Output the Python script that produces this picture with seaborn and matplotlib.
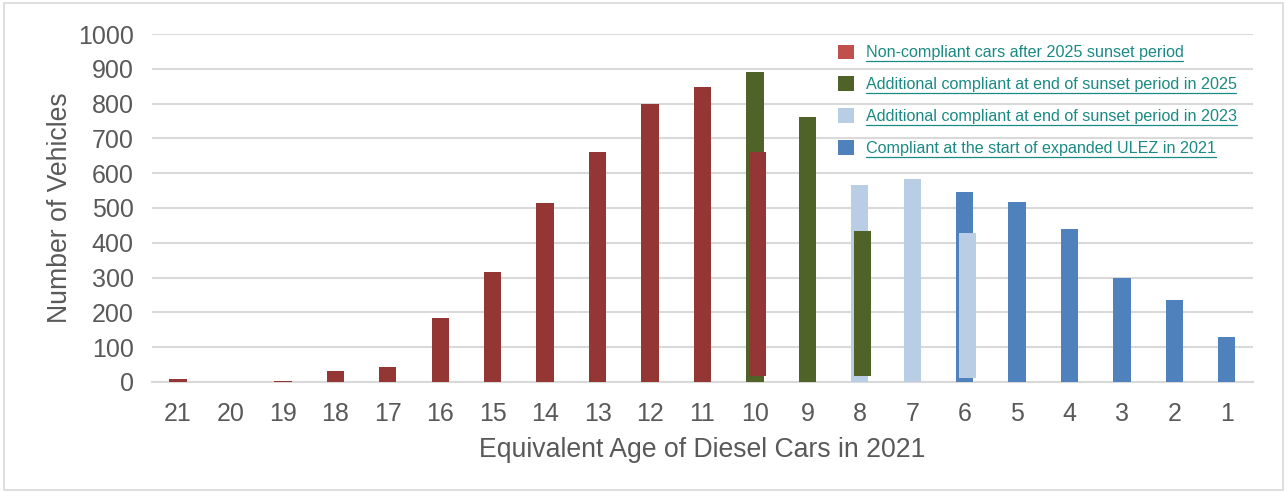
import matplotlib
matplotlib.use("Agg")
import matplotlib.pyplot as plt
from matplotlib.patches import Patch, Rectangle
from matplotlib.lines import Line2D
import pandas as pd
import seaborn as sns

# age of diesel cars (years), drawn from oldest to newest
ages = list(range(21, 0, -1))

non_compliant_ages = [21, 20, 19, 18, 17, 16, 15, 14, 13, 12, 11]
non_compliant = [8, 0, 3, 32, 42, 183, 315, 515, 660, 800, 848]
end_2025_ages = [10, 9]
end_2025 = [890, 762]
end_2023_ages = [8, 7]
end_2023 = [565, 582]
start_2021_ages = [6, 5, 4, 3, 2, 1]
start_2021 = [547, 518, 440, 300, 237, 128]

# narrower overlaid bars that sit inside the split columns (age, bottom, top)
overlay_ages = [10, 8, 6]
overlay_bottom = [18, 18, 12]
overlay_top = [662, 435, 427]
overlay_series = ["non", "end2025", "end2023"]

labels = {
    "non": "Non-compliant cars after 2025 sunset period",
    "end2025": "Additional compliant at end of sunset period in 2025",
    "end2023": "Additional compliant at end of sunset period in 2023",
    "start2021": "Compliant at the start of expanded ULEZ in 2021",
}
bar_colors = {"non": "#943634", "end2025": "#4F6228", "end2023": "#B9CDE5", "start2021": "#4F81BD"}
legend_colors = {"non": "#C0504D", "end2025": "#4F6228", "end2023": "#B9CDE5", "start2021": "#4F81BD"}

sns.set_style("white")
plt.rcParams["font.family"] = ["Liberation Sans", "DejaVu Sans"]

fig = plt.figure(figsize=(12.87, 4.93), dpi=100)
ax = fig.add_axes([0.118, 0.2252, 0.8556, 0.7058])

frames = []
for key, a, v in [("non", non_compliant_ages, non_compliant),
                  ("end2025", end_2025_ages, end_2025),
                  ("end2023", end_2023_ages, end_2023),
                  ("start2021", start_2021_ages, start_2021)]:
    frames.append(pd.DataFrame({"pos": [21 - x for x in a], "value": v, "series": key}))
df = pd.concat(frames, ignore_index=True)

for key, sub in df.groupby("series", sort=False):
    sns.barplot(data=sub, x="pos", y="value", native_scale=True, width=0.33,
                color=bar_colors[key], saturation=1, errorbar=None, ax=ax,
                linewidth=0, zorder=3)

for a, b, t, key in zip(overlay_ages, overlay_bottom, overlay_top, overlay_series):
    sub = pd.DataFrame({"pos": [21 - a + 0.05], "value": [t - b]})
    sns.barplot(data=sub, x="pos", y="value", native_scale=True, width=0.33,
                color=bar_colors[key], saturation=1, errorbar=None, ax=ax,
                bottom=b, linewidth=0, zorder=4)

ax.set_xlim(-0.5, 20.5)
ax.set_ylim(0, 1000)
ax.set_yticks(range(0, 1001, 100))
ax.set_xticks([21 - a for a in ages])
ax.set_xticklabels([str(a) for a in ages])
ax.grid(axis="y", color="#d9d9d9", linewidth=1.5, zorder=0)
ax.set_axisbelow(True)
for s in ["left", "right", "top"]:
    ax.spines[s].set_visible(False)
ax.spines["bottom"].set_color("#d9d9d9")
ax.spines["bottom"].set_linewidth(1.5)
ax.tick_params(axis="y", length=0, labelsize=18, labelcolor="#595959", pad=13)
ax.tick_params(axis="x", length=0, labelsize=18, labelcolor="#595959", pad=14.4)
ax.set_xlabel("Equivalent Age of Diesel Cars in 2021", fontsize=19.2, color="#595959", labelpad=8.2)
ax.set_ylabel("Number of Vehicles", fontsize=19.2, color="#595959", labelpad=3.7)

handles = [Patch(facecolor=legend_colors[k], edgecolor="none") for k in labels]
leg = fig.legend(handles, list(labels.values()), loc="upper left",
                 bbox_to_anchor=(0.640, 0.939), frameon=False, fontsize=11.6,
                 labelcolor="#1a8a82", handlelength=1.0, handleheight=1.0,
                 labelspacing=1.0, handletextpad=0.7)

fig.add_artist(Rectangle((0.003, 0.006), 0.994, 0.988, transform=fig.transFigure,
                         fill=False, edgecolor="#d9d9d9", linewidth=1.2))

fig.canvas.draw()
inv = fig.transFigure.inverted()
for txt in leg.get_texts():
    bb = txt.get_window_extent()
    (x0, y0), (x1, _) = inv.transform([(bb.x0, bb.y0 - 1), (bb.x1, bb.y0)])
    fig.add_artist(Line2D([x0, x1], [y0, y0], transform=fig.transFigure,
                          color="#1a8a82", linewidth=0.9))

fig.savefig("out.png", dpi=100)
